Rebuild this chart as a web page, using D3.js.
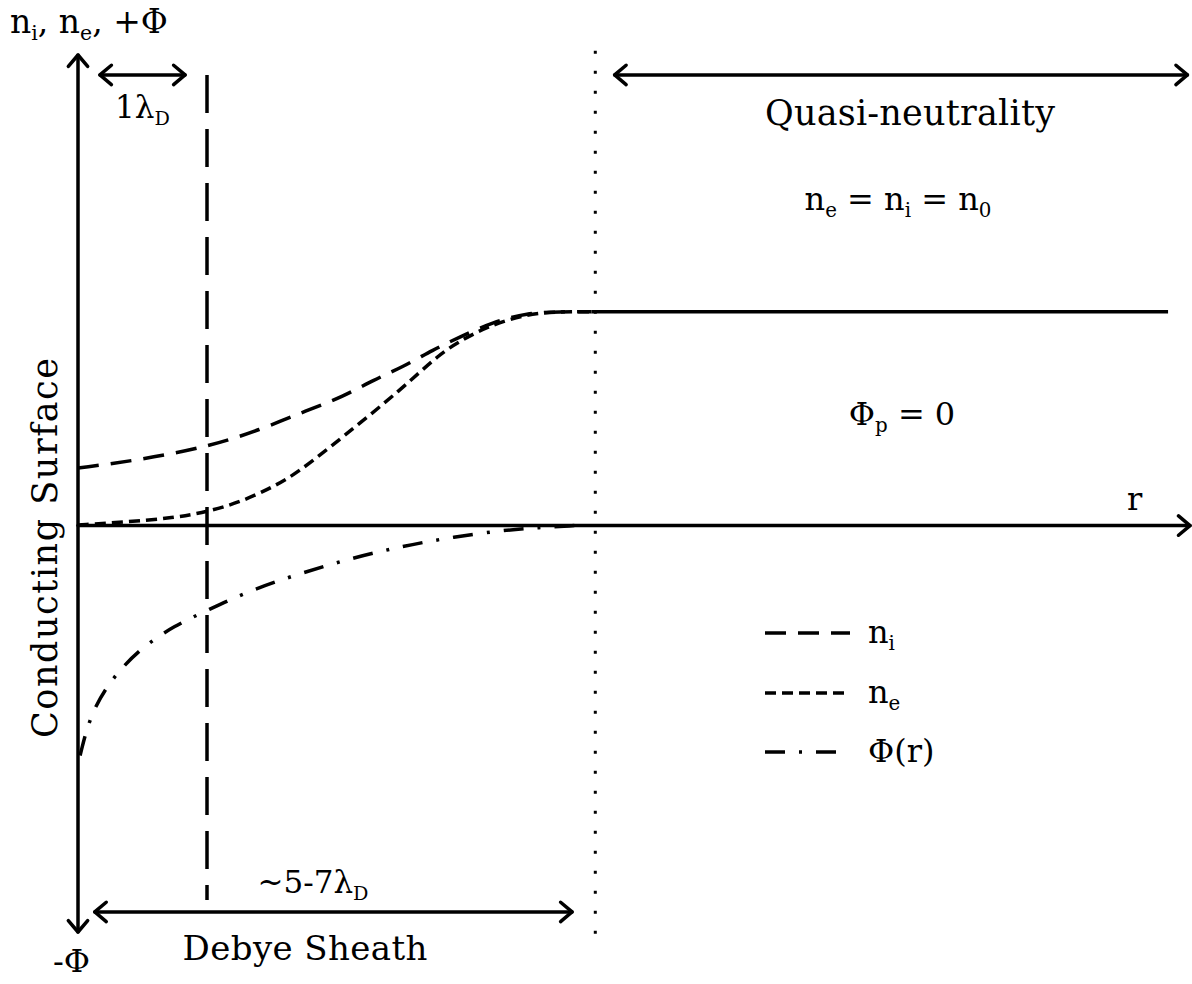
<!DOCTYPE html>
<html lang="en">
<head>
<meta charset="UTF-8">
<title>Debye sheath</title>
<script src="https://d3js.org/d3.v7.min.js"></script>
<style>
  body {margin: 0; background: #fff;}
  text {font-family: "DejaVu Serif", serif; fill: #000;}
</style>
</head>
<body>
<script>
const width = 1192;
const height = 984;

// r in units of lambda_D, densities normalised so n0 = 1, potential on same axis
const niCurve  = [[0,0.269],[0.48,0.307],[1,0.367],[1.41,0.447],[1.78,0.54],[2.05,0.601],
                  [2.29,0.681],[2.52,0.742],[2.75,0.821],[2.96,0.882],[3.22,0.952],
                  [3.48,0.994],[3.74,1],[3.98,1]];
const neCurve  = [[0,0.003],[0.38,0.017],[0.74,0.036],[1,0.064],[1.26,0.11],[1.51,0.18],
                  [1.7,0.245],[2.05,0.413],[2.5,0.633],[2.81,0.807],[2.98,0.868],
                  [3.17,0.93],[3.48,0.99],[3.74,1],[3.98,1]];
const phiCurve = [[0.016,-1.075],[0.093,-0.888],[0.248,-0.724],[0.48,-0.575],[0.75,-0.467],
                  [1,-0.397],[1.33,-0.304],[1.72,-0.224],[2.11,-0.154],[2.5,-0.098],
                  [2.88,-0.056],[3.27,-0.023],[3.58,-0.009],[3.85,0]];
const plateau  = [[3.98,1],[8.45,1]];

const lambdaLine = 1;      // 1 lambda_D marker
const sheathEdge = 4.01;   // edge of the sheath
const legendLabels = [["n","i"],["n","e"],["\u03A6(r)",""]];

const svg = d3.select("body").append("svg")
    .attr("width", width).attr("height", height);

const x = d3.scaleLinear().domain([0, 8.62]).range([78, 1190]);
const y = d3.scaleLinear().domain([-1.9, 2.2]).range([932, 55]);

const line = d3.line()
    .x(d => x(d[0])).y(d => y(d[1]))
    .curve(d3.curveBasis);

// open chevron arrow
function arrow(x1, y1, x2, y2, both) {
    const g = svg.append("g").style("stroke", "#000").style("stroke-width", 3.5)
        .style("fill", "none").style("stroke-linecap", "round").style("stroke-linejoin", "round");
    g.append("line").attr("x1", x1).attr("y1", y1).attr("x2", x2).attr("y2", y2);
    const head = (tx, ty, fx, fy) => {
        const a = Math.atan2(ty - fy, tx - fx), L = 15;
        const p1 = [tx - L * Math.cos(a - 0.7), ty - L * Math.sin(a - 0.7)];
        const p2 = [tx - L * Math.cos(a + 0.7), ty - L * Math.sin(a + 0.7)];
        g.append("path").attr("d", `M${p1}L${tx},${ty}L${p2}`);
    };
    head(x2, y2, x1, y1);
    if (both) head(x1, y1, x2, y2);
}

// text with subscripts: parts = [[text, sub], ...]
function label(parts, px, py, size, anchor) {
    const t = svg.append("text").attr("x", px).attr("y", py)
        .style("font-size", size + "px").attr("text-anchor", anchor || "start");
    let shifted = 0;
    parts.forEach(([s, sub]) => {
        const want = sub ? size * 0.22 : 0;
        t.append("tspan").attr("dy", want - shifted)
            .style("font-size", (sub ? size * 0.62 : size) + "px").text(s);
        shifted = want;
    });
    return t;
}

// axes
arrow(x(0), y(0), x(8.62), y(0), false);
arrow(x(0), y(-1.9), x(0), y(2.2), true);

// reference lines
svg.append("line")
    .attr("x1", x(lambdaLine)).attr("x2", x(lambdaLine))
    .attr("y1", y(2.107)).attr("y2", y(-1.75))
    .style("stroke", "#000").style("stroke-width", 3.5).style("stroke-dasharray", "38,16");
svg.append("line")
    .attr("x1", x(sheathEdge)).attr("x2", x(sheathEdge))
    .attr("y1", y(2.22)).attr("y2", y(-1.914))
    .style("stroke", "#000").style("stroke-width", 3).style("stroke-dasharray", "3,17");

// curves
svg.append("path").datum(niCurve).attr("d", line)
    .style("fill", "none").style("stroke", "#000").style("stroke-width", 3.5)
    .style("stroke-dasharray", "21,12");
svg.append("path").datum(neCurve).attr("d", line)
    .style("fill", "none").style("stroke", "#000").style("stroke-width", 3.5)
    .style("stroke-dasharray", "11,6");
svg.append("path").datum(phiCurve).attr("d", line)
    .style("fill", "none").style("stroke", "#000").style("stroke-width", 3.5)
    .style("stroke-dasharray", "20,14,3,14");
svg.append("path").datum(plateau).attr("d", line)
    .style("fill", "none").style("stroke", "#000").style("stroke-width", 3.5);

// annotation arrows
arrow(x(0.17), y(2.107), x(0.83), y(2.107), true);
arrow(x(4.16), y(2.107), x(8.60), y(2.107), true);
arrow(x(0.13), y(-1.806), x(3.83), y(-1.806), true);

// labels
label([["n",0],["i",1],[", n",0],["e",1],[", +\u03A6",0]], 10, 33, 33);
label([["1\u03BB",0],["D",1]], 115, 118, 31);
label([["Quasi-neutrality",0]], 910, 125, 35, "middle").attr("textLength", 290);
label([["n",0],["e",1],[" = n",0],["i",1],[" = n",0],["0",1]], 898, 210, 32, "middle");
label([["\u03A6",0],["p",1],[" = 0",0]], 902, 425, 32, "middle");
label([["r",0]], 1127, 510, 32);
label([["~5-7\u03BB",0],["D",1]], 313, 893, 31, "middle");
label([["Debye Sheath",0]], 305, 960, 34, "middle").attr("textLength", 245);
label([["-\u03A6",0]], 53, 972, 32);
svg.append("text").attr("transform", "translate(57,548) rotate(-90)")
    .attr("text-anchor", "middle").style("font-size", "35px")
    .attr("textLength", 380).text("Conducting Surface");

// legend
const legendDash = ["21,12", "11,6", "20,14,3,14"];
const legendY = [633, 693, 752];
legendLabels.forEach((lab, i) => {
    svg.append("line").attr("x1", 765).attr("x2", 850)
        .attr("y1", legendY[i]).attr("y2", legendY[i])
        .style("stroke", "#000").style("stroke-width", 3.5)
        .style("stroke-dasharray", legendDash[i]);
    label([[lab[0],0],[lab[1],1]], 868, legendY[i] + 10, 32);
});
</script>
</body>
</html>
